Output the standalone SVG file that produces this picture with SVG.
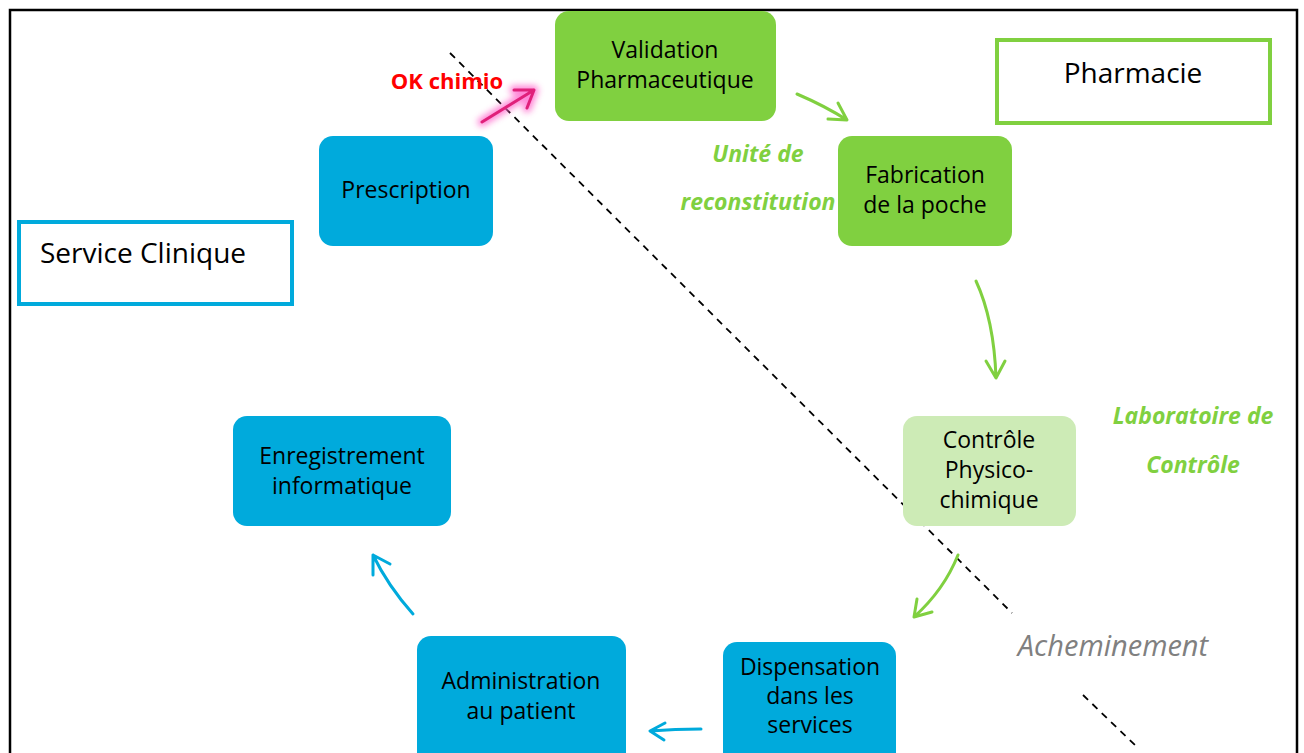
<svg xmlns="http://www.w3.org/2000/svg" width="1304" height="753" viewBox="0 0 1304 753">
<style>
.nt{font-family:"Open Sans","Liberation Sans",sans-serif;font-size:23px;fill:#000;text-anchor:middle}
.blue{fill:#00aadc}
.green{fill:#80d040}
.lgreen{fill:#cdebb6}
.ga{fill:none;stroke:#80d040;stroke-width:3;stroke-linecap:round;stroke-linejoin:round}
.ba{fill:none;stroke:#00aadc;stroke-width:3;stroke-linecap:round;stroke-linejoin:round}
.lab{font-family:"Open Sans","Liberation Sans",sans-serif;font-size:23px;font-weight:bold;font-style:italic;fill:#80d040;text-anchor:middle}
.title{font-family:"Open Sans","Liberation Sans",sans-serif;font-size:28px;fill:#000}
</style>
<defs>
<filter id="glow" x="-50%" y="-50%" width="200%" height="200%">
<feGaussianBlur stdDeviation="3"/>
</filter>
</defs>
<rect x="0" y="0" width="1304" height="753" fill="#fff"/>
<path d="M10 760 V10 H1297 V760" fill="none" stroke="#000" stroke-width="2.5"/>
<g id="dash">
<line x1="450" y1="53" x2="1012" y2="613" stroke="#000" stroke-width="1.8" stroke-dasharray="7,6"/>
<line x1="1083" y1="695" x2="1136" y2="746" stroke="#000" stroke-width="1.8" stroke-dasharray="7,6"/>
</g>
<g id="pharmacie">
<rect x="997" y="40" width="273" height="83" fill="#fff" stroke="#80d040" stroke-width="4"/>
<text class="title" x="1133" y="83" text-anchor="middle">Pharmacie</text>
</g>
<g id="service">
<rect x="19" y="222" width="273" height="82" fill="#fff" stroke="#00aadc" stroke-width="4"/>
<text class="title" x="40" y="263">Service Clinique</text>
</g>
<g id="validation">
<rect x="555" y="11" width="221" height="110" rx="14" class="green"/>
<text class="nt" x="665" y="58">Validation</text>
<text class="nt" x="665" y="88">Pharmaceutique</text>
</g>
<g id="fabrication">
<rect x="838" y="136" width="174" height="110" rx="14" class="green"/>
<text class="nt" x="925" y="183">Fabrication</text>
<text class="nt" x="925" y="213">de la poche</text>
</g>
<g id="controle">
<rect x="903" y="416" width="173" height="110" rx="14" class="lgreen"/>
<text class="nt" x="989" y="448">Contrôle</text>
<text class="nt" x="989" y="478">Physico-</text>
<text class="nt" x="989" y="508">chimique</text>
</g>
<g id="prescription">
<rect x="319" y="136" width="174" height="110" rx="14" class="blue"/>
<text class="nt" x="406" y="198">Prescription</text>
</g>
<g id="enregistrement">
<rect x="233" y="416" width="218" height="110" rx="14" class="blue"/>
<text class="nt" x="342" y="464">Enregistrement</text>
<text class="nt" x="342" y="494">informatique</text>
</g>
<g id="administration">
<rect x="417" y="636" width="209" height="130" rx="14" class="blue"/>
<text class="nt" x="521" y="689">Administration</text>
<text class="nt" x="521" y="719">au patient</text>
</g>
<g id="dispensation">
<rect x="723" y="642" width="173" height="124" rx="14" class="blue"/>
<text class="nt" x="810" y="675">Dispensation</text>
<text class="nt" x="810" y="704">dans les</text>
<text class="nt" x="810" y="733">services</text>
</g>
<g id="labels">
<text class="lab" x="758" y="162">Unité de</text>
<text class="lab" x="758" y="210">reconstitution</text>
<text class="lab" x="1193" y="424">Laboratoire de</text>
<text class="lab" x="1193" y="473">Contrôle</text>
<text x="1113" y="656" font-family="'Open Sans','Liberation Sans',sans-serif" font-size="29" font-style="italic" fill="#808080" text-anchor="middle">Acheminement</text>
<text x="447" y="89" font-family="'Open Sans','Liberation Sans',sans-serif" font-size="22" font-weight="bold" fill="#ff0000" text-anchor="middle">OK chimio</text>
</g>
<g id="connectors">
<g filter="url(#glow)" opacity="0.8">
<path d="M482 122 L534 90 M514 90 L534 90 L527 108" fill="none" stroke="#ff66cc" stroke-width="9" stroke-linecap="round" stroke-linejoin="round"/>
</g>
<path d="M482 122 L534 90 M514 90 L534 90 L527 108" fill="none" stroke="#e0207a" stroke-width="3" stroke-linecap="round" stroke-linejoin="round"/>
<path class="ga" d="M797 94 Q825 106 847 120 M828 119 L847 120 L838 103"/>
<path class="ga" d="M976 281 Q994 320 996 378 M986 361 L996 378 L1005 361"/>
<path class="ga" d="M958 555 Q944 590 914 617 M917 599 L914 617 L932 612"/>
<path class="ba" d="M701 729 Q675 729 650 731 M665 723 L650 731 L664 740"/>
<path class="ba" d="M413 614 Q388 586 373 555 M373 575 L373 555 L390 564"/>
</g>
</svg>
